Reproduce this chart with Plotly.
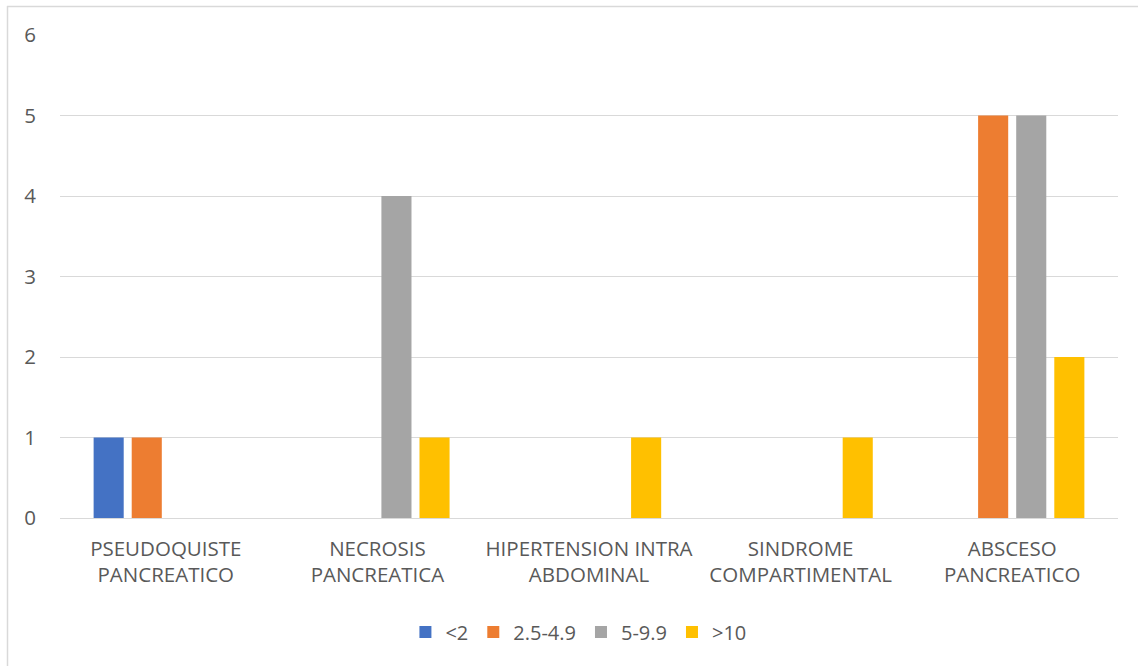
import plotly.graph_objects as go

categories = [
    "PSEUDOQUISTE<br>PANCREATICO",
    "NECROSIS<br>PANCREATICA",
    "HIPERTENSION INTRA<br>ABDOMINAL",
    "SINDROME<br>COMPARTIMENTAL",
    "ABSCESO<br>PANCREATICO",
]
series_names = ["<2", "2.5-4.9", "5-9.9", ">10"]
values_lt2 = [1, 0, 0, 0, 0]
values_2_5 = [1, 0, 0, 0, 5]
values_5_9 = [0, 4, 0, 0, 5]
values_gt10 = [0, 1, 1, 1, 2]
y_ticks = [0, 1, 2, 3, 4, 5, 6]

colors = ["#4472C4", "#ED7D31", "#A5A5A5", "#FFC000"]
text_color = "#595959"
font_family = "Open Sans, Noto Sans, sans-serif"

W, H = 1138, 666
ml, mr, mt, mb = 60, 20, 35, 148
pw, ph = W - ml - mr, H - mt - mb

fig = go.Figure()
for name, vals, col in zip(series_names,
                           [values_lt2, values_2_5, values_5_9, values_gt10],
                           colors):
    fig.add_trace(go.Bar(name=name, x=categories, y=vals, marker_color=col,
                         marker_line_width=0))

def px_x(p):
    return (p - ml) / pw

def px_y(p):
    return (H - mb - p) / ph

fig.update_layout(
    width=W, height=H,
    margin=dict(l=ml, r=mr, t=mt, b=mb),
    paper_bgcolor="white", plot_bgcolor="white",
    barmode="group", bargap=0.28, bargroupgap=0.21,
    font=dict(family=font_family, color=text_color, size=20),
    showlegend=True,
    legend=dict(orientation="h", x=0.49, xanchor="center",
                y=px_y(632), yanchor="middle",
                font=dict(size=20, color=text_color),
                itemwidth=30, traceorder="normal"),
    xaxis=dict(type="category", categoryorder="array", categoryarray=categories,
               showgrid=False, showline=False, ticks="",
               tickfont=dict(size=20.5, color=text_color),
               ticklabelstandoff=16),
    yaxis=dict(range=[0, 6], tickvals=y_ticks, showgrid=True,
               gridcolor="#D9D9D9", gridwidth=1.3,
               zeroline=True, zerolinecolor="#D9D9D9", zerolinewidth=1.3,
               showline=False, ticks="", ticklabelstandoff=23,
               tickfont=dict(size=20.5, color=text_color)),
    shapes=[
        dict(type="line", xref="paper", yref="paper",
             x0=px_x(7.5), x1=px_x(7.5), y0=px_y(6), y1=px_y(670),
             line=dict(color="#D9D9D9", width=1.5)),
        dict(type="line", xref="paper", yref="paper",
             x0=px_x(7), x1=px_x(1140), y0=px_y(6.5), y1=px_y(6.5),
             line=dict(color="#D9D9D9", width=1.5)),
    ],
)

fig.write_html("out.html")
